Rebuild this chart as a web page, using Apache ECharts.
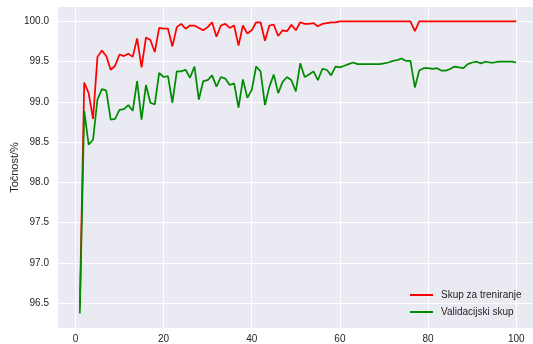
<!DOCTYPE html>
<html>
<head>
<meta charset="utf-8">
<script src="https://cdn.jsdelivr.net/npm/echarts@6/dist/echarts.min.js"></script>
<style>
  html, body { margin: 0; padding: 0; background: #ffffff; }
  #chart { width: 533px; height: 344px; }
</style>
</head>
<body>
<div id="chart"></div>
<script>
// Accuracy per epoch (%)
const epochs = Array.from({ length: 100 }, (_, i) => i + 1);

const trainAcc = [
  96.45, 99.24, 99.11, 98.79, 99.56, 99.64, 99.57, 99.40, 99.45, 99.59,
  99.57, 99.60, 99.56, 99.79, 99.43, 99.80, 99.77, 99.62, 99.92, 99.91,
  99.91, 99.69, 99.93, 99.97, 99.91, 99.95, 99.95, 99.92, 99.89, 99.93,
  99.99, 99.81, 99.95, 99.97, 99.92, 99.95, 99.70, 99.95, 99.85, 99.89,
  99.99, 99.99, 99.76, 99.95, 99.96, 99.82, 99.89, 99.88, 99.96, 99.89,
  99.99, 99.97, 99.97, 99.98, 99.94, 99.97, 99.98, 99.99, 99.99, 100.0,
  100.0, 100.0, 100.0, 100.0, 100.0, 100.0, 100.0, 100.0, 100.0, 100.0,
  100.0, 100.0, 100.0, 100.0, 100.0, 100.0, 99.88, 100.0, 100.0, 100.0,
  100.0, 100.0, 100.0, 100.0, 100.0, 100.0, 100.0, 100.0, 100.0, 100.0,
  100.0, 100.0, 100.0, 100.0, 100.0, 100.0, 100.0, 100.0, 100.0, 100.0
];

const valAcc = [
  96.37, 98.89, 98.47, 98.53, 99.03, 99.16, 99.14, 98.78, 98.79, 98.90,
  98.91, 98.96, 98.89, 99.26, 98.78, 99.21, 98.99, 98.97, 99.36, 99.31,
  99.32, 98.99, 99.38, 99.38, 99.40, 99.30, 99.44, 99.03, 99.26, 99.27,
  99.33, 99.19, 99.31, 99.29, 99.21, 99.23, 98.93, 99.28, 99.05, 99.15,
  99.44, 99.38, 98.96, 99.19, 99.34, 99.11, 99.25, 99.31, 99.27, 99.13,
  99.48, 99.31, 99.34, 99.38, 99.27, 99.41, 99.40, 99.33, 99.44, 99.43,
  99.45, 99.47, 99.49, 99.47, 99.47, 99.47, 99.47, 99.47, 99.47, 99.48,
  99.49, 99.51, 99.52, 99.54, 99.51, 99.51, 99.18, 99.39, 99.42, 99.42,
  99.41, 99.42, 99.39, 99.39, 99.41, 99.44, 99.43, 99.42, 99.47, 99.49,
  99.50, 99.48, 99.50, 99.49, 99.49, 99.50, 99.50, 99.50, 99.50, 99.49
];

const xTicks = [0, 20, 40, 60, 80, 100];
const yTicks = [96.5, 97.0, 97.5, 98.0, 98.5, 99.0, 99.5, 100.0];

const seriesNames = ['Skup za treniranje', 'Validacijski skup'];
const seriesColors = ['#ff0000', '#008c00'];

const FONT = 'Liberation Sans, Arial, sans-serif';
const TEXT = '#262626';

const chart = echarts.init(document.getElementById('chart'), null, { renderer: 'canvas' });

chart.setOption({
  animation: false,
  backgroundColor: '#ffffff',
  grid: {
    left: 58, right: 0, top: 7, bottom: 16,
    show: true, backgroundColor: '#eaeaf2', borderWidth: 0,
    containLabel: false,
    outerBoundsMode: 'none'
  },
  xAxis: {
    type: 'value',
    min: -3.95, max: 103.8,
    axisLine: { show: false },
    axisTick: { show: false, customValues: xTicks },
    axisLabel: {
      customValues: xTicks, margin: 6,
      color: TEXT, fontFamily: FONT, fontSize: 10
    },
    splitLine: { show: true, lineStyle: { color: '#ffffff', width: 1 } }
  },
  yAxis: {
    type: 'value',
    min: 96.19, max: 100.18,
    name: 'Točnost/%',
    nameLocation: 'middle',
    nameGap: 38,
    nameMoveOverlap: false,
    nameTextStyle: { color: TEXT, fontFamily: FONT, fontSize: 11 },
    axisLine: { show: false },
    axisTick: { show: false, customValues: yTicks },
    axisLabel: {
      customValues: yTicks, margin: 9,
      color: TEXT, fontFamily: FONT, fontSize: 10,
      formatter: v => v.toFixed(1)
    },
    splitLine: { show: true, lineStyle: { color: '#ffffff', width: 1 } }
  },
  legend: {
    orient: 'vertical',
    left: 410, top: 289,
    padding: 0,
    icon: 'rect',
    itemWidth: 23, itemHeight: 2,
    itemGap: 5,
    textStyle: { color: TEXT, fontFamily: FONT, fontSize: 10, lineHeight: 12, padding: [0, 0, 0, 3] },
    data: seriesNames
  },
  series: [
    {
      name: seriesNames[0], type: 'line',
      data: epochs.map((e, i) => [e, trainAcc[i]]),
      showSymbol: false, symbol: 'none',
      color: seriesColors[0],
      lineStyle: { color: seriesColors[0], width: 1.75 },
      z: 2
    },
    {
      name: seriesNames[1], type: 'line',
      data: epochs.map((e, i) => [e, valAcc[i]]),
      showSymbol: false, symbol: 'none',
      color: seriesColors[1],
      lineStyle: { color: seriesColors[1], width: 1.75 },
      z: 3
    }
  ]
});
</script>
</body>
</html>
